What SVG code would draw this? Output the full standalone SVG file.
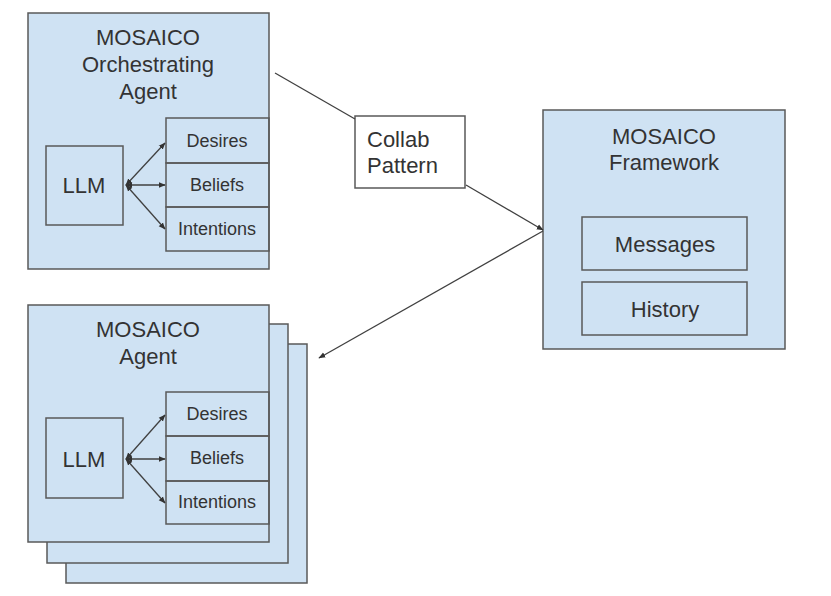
<svg xmlns="http://www.w3.org/2000/svg" width="831" height="596" viewBox="0 0 831 596">
<defs>
<style>
.box{fill:#cfe2f3;stroke:#595959;stroke-width:1.5}
.wbox{fill:#ffffff;stroke:#595959;stroke-width:1.5}
.ib{fill:none;stroke:#595959;stroke-width:1.5}
text{font-family:"Liberation Sans",Arial,sans-serif;fill:#333333}
.t22{font-size:22px;text-anchor:middle}
.t18{font-size:18px;text-anchor:middle}
.con{stroke:#404040;stroke-width:1.3;fill:none}
</style>
<marker id="ah" viewBox="0 0 10 10" refX="9" refY="5" markerWidth="7" markerHeight="7" markerUnits="userSpaceOnUse" orient="auto-start-reverse">
<path d="M0,1 L10,5 L0,9 z" fill="#333333"/>
</marker>
</defs>
<rect width="831" height="596" fill="#ffffff"/>

<g id="orchestrating-agent">
<rect class="box" x="28" y="13" width="241" height="256"/>
<text class="t22" x="148" y="45">MOSAICO</text>
<text class="t22" x="148" y="72">Orchestrating</text>
<text class="t22" x="148" y="99">Agent</text>
<g id="oa-llm"><rect class="ib" x="46" y="146" width="77" height="79"/><text class="t22" x="84" y="193">LLM</text></g>
<g id="oa-desires"><rect class="ib" x="166" y="118" width="103" height="45"/><text class="t18" x="217" y="147">Desires</text></g>
<g id="oa-beliefs"><rect class="ib" x="166" y="163" width="103" height="44"/><text class="t18" x="217" y="191">Beliefs</text></g>
<g id="oa-intentions"><rect class="ib" x="166" y="207" width="103" height="44"/><text class="t18" x="217" y="235">Intentions</text></g>
</g>

<g id="agent">
<rect class="box" x="66" y="344" width="241" height="239"/>
<rect class="box" x="47" y="324" width="241" height="239"/>
<rect class="box" x="28" y="305" width="241" height="237"/>
<text class="t22" x="148" y="337">MOSAICO</text>
<text class="t22" x="148" y="364">Agent</text>
<g id="ag-llm"><rect class="ib" x="46" y="418" width="77" height="80"/><text class="t22" x="84" y="467">LLM</text></g>
<g id="ag-desires"><rect class="ib" x="166" y="392" width="103" height="44"/><text class="t18" x="217" y="420">Desires</text></g>
<g id="ag-beliefs"><rect class="ib" x="166" y="436" width="103" height="45"/><text class="t18" x="217" y="464">Beliefs</text></g>
<g id="ag-intentions"><rect class="ib" x="166" y="481" width="103" height="43"/><text class="t18" x="217" y="508">Intentions</text></g>
</g>

<g id="collab-pattern">
<rect class="wbox" x="355" y="116" width="110" height="72"/>
<text x="367" y="147" style="font-size:22px">Collab</text>
<text x="367" y="173" style="font-size:22px">Pattern</text>
</g>

<g id="framework">
<rect class="box" x="543" y="110" width="242" height="239"/>
<text class="t22" x="664" y="144">MOSAICO</text>
<text class="t22" x="664" y="170">Framework</text>
<g id="fw-messages"><rect class="ib" x="582" y="217" width="165" height="53"/><text class="t22" x="665" y="252">Messages</text></g>
<g id="fw-history"><rect class="ib" x="582" y="282" width="165" height="53"/><text class="t22" x="665" y="317">History</text></g>
</g>

<g id="connectors">
<line class="con" x1="275" y1="73" x2="355" y2="119"/>
<line class="con" x1="466" y1="185" x2="543" y2="230" marker-end="url(#ah)"/>
<line class="con" x1="543" y1="231" x2="319" y2="358" marker-end="url(#ah)"/>
<line class="con" x1="126" y1="185" x2="165" y2="143" marker-start="url(#ah)" marker-end="url(#ah)"/>
<line class="con" x1="126" y1="185" x2="165" y2="185" marker-start="url(#ah)" marker-end="url(#ah)"/>
<line class="con" x1="126" y1="185" x2="165" y2="229" marker-start="url(#ah)" marker-end="url(#ah)"/>
<line class="con" x1="126" y1="459" x2="165" y2="415" marker-start="url(#ah)" marker-end="url(#ah)"/>
<line class="con" x1="126" y1="459" x2="165" y2="459" marker-start="url(#ah)" marker-end="url(#ah)"/>
<line class="con" x1="126" y1="459" x2="165" y2="503" marker-start="url(#ah)" marker-end="url(#ah)"/>
</g>
</svg>
